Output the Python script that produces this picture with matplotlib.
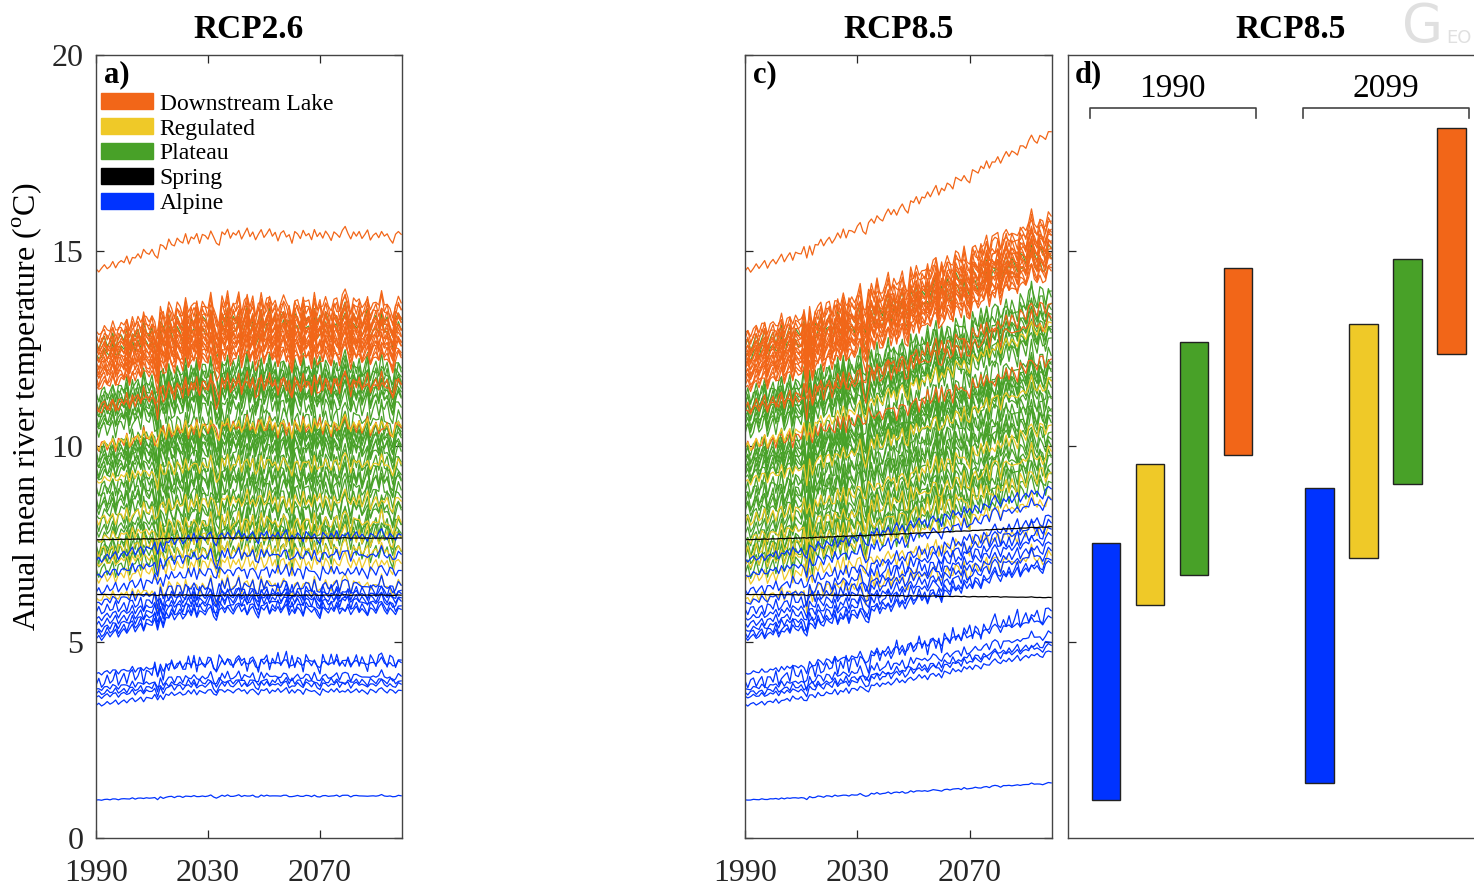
import matplotlib.pyplot as plt
from matplotlib.patches import Patch
import numpy as np

plt.rcParams['font.family'] = ['Liberation Serif', 'DejaVu Serif']
plt.rcParams['mathtext.fontset'] = 'custom'
plt.rcParams['mathtext.rm'] = 'Liberation Serif'

years = np.arange(1990, 2100)

# warming shape over the century (0 = 1990 level, 1 = 2099 level)
rise26 = [0.00, 0.02, 0.04, 0.07, 0.09, 0.11, 0.14, 0.16, 0.19, 0.21,
          0.24, 0.27, 0.29, 0.32, 0.35, 0.38, 0.41, 0.44, 0.47, 0.50,
          0.53, 0.56, 0.59, 0.62, 0.65, 0.68, 0.71, 0.73, 0.76, 0.78,
          0.80, 0.82, 0.84, 0.86, 0.88, 0.89, 0.91, 0.92, 0.93, 0.94,
          0.95, 0.96, 0.97, 0.97, 0.98, 0.98, 0.99, 0.99, 1.00, 1.00,
          1.00, 1.00, 1.00, 1.00, 1.00, 1.00, 1.00, 1.00, 1.00, 1.00,
          1.00, 1.00, 1.00, 0.99, 0.99, 0.99, 0.99, 0.99, 0.99, 0.99,
          0.99, 0.99, 0.99, 0.99, 0.98, 0.98, 0.98, 0.98, 0.98, 0.98,
          0.98, 0.98, 0.98, 0.98, 0.98, 0.98, 0.98, 0.98, 0.98, 0.98,
          0.98, 0.98, 0.98, 0.97, 0.97, 0.97, 0.97, 0.97, 0.97, 0.97,
          0.97, 0.97, 0.97, 0.97, 0.97, 0.97, 0.97, 0.98, 0.99, 1.00]
rise85 = [0.000, 0.004, 0.009, 0.014, 0.019, 0.025, 0.031, 0.037, 0.044, 0.050,
          0.057, 0.064, 0.071, 0.078, 0.085, 0.093, 0.100, 0.108, 0.115, 0.123,
          0.131, 0.139, 0.147, 0.155, 0.163, 0.171, 0.179, 0.187, 0.196, 0.204,
          0.213, 0.221, 0.230, 0.239, 0.247, 0.256, 0.265, 0.274, 0.282, 0.291,
          0.300, 0.309, 0.318, 0.327, 0.337, 0.346, 0.355, 0.364, 0.374, 0.383,
          0.393, 0.402, 0.412, 0.421, 0.431, 0.440, 0.450, 0.459, 0.469, 0.479,
          0.489, 0.498, 0.508, 0.518, 0.528, 0.538, 0.548, 0.558, 0.568, 0.578,
          0.588, 0.598, 0.608, 0.618, 0.628, 0.639, 0.649, 0.659, 0.669, 0.680,
          0.690, 0.700, 0.711, 0.721, 0.732, 0.742, 0.753, 0.763, 0.774, 0.784,
          0.795, 0.805, 0.816, 0.827, 0.837, 0.848, 0.859, 0.870, 0.880, 0.891,
          0.902, 0.913, 0.924, 0.934, 0.945, 0.956, 0.967, 0.978, 0.989, 1.000]

# year-to-year anomalies
wig1 = [0.2, -0.3, 0.1, 0.4, -0.2, 0.0, 0.5, -0.4, 0.1, 0.3,
        -0.1, 0.6, -0.5, 0.2, 0.0, 0.4, -0.3, 0.7, 0.1, -0.2,
        0.3, -0.6, -1.1, 0.5, 0.2, -0.4, 0.8, 0.0, -0.3, 0.6,
        0.1, -0.2, 0.9, -0.5, 0.3, 0.0, 0.6, -0.7, 0.4, 0.2,
        -0.3, 0.7, -0.1, -0.9, -1.2, 0.5, 0.1, 0.8, -0.4, 0.3,
        0.0, 0.6, -0.5, 0.2, 0.9, -0.2, 0.4, -0.6, 0.1, 0.7,
        -0.3, 0.2, 0.8, -0.1, 0.4, -0.7, 0.3, 0.6, -0.2, 0.1,
        -1.0, 0.5, 0.2, -0.4, 0.7, 0.0, 0.3, -0.5, 0.8, -0.1,
        0.4, -0.3, 0.6, 0.1, -0.6, 0.5, 0.2, -0.2, 0.7, 1.2,
        0.3, -0.4, 0.5, 0.0, 0.6, -0.3, 0.2, 0.8, -0.5, 0.1,
        0.4, -0.2, 0.6, 0.0, 0.3, -0.4, -0.9, 0.2, 0.5, 0.1]
wig2 = [-0.1, 0.3, -0.4, 0.0, 0.5, -0.2, 0.2, 0.6, -0.5, 0.1,
        0.4, -0.3, 0.2, 0.7, -0.4, 0.1, 0.5, -0.6, 0.3, 0.0,
        -0.2, 0.6, -1.0, 0.4, -0.9, 0.3, 0.1, 0.7, -0.3, 0.2,
        0.5, -0.4, 0.0, 0.6, -0.2, 0.8, -0.5, 0.3, 0.1, -0.3,
        0.4, 0.7, -0.6, -1.1, 0.2, 0.5, -0.2, 0.6, 0.0, -0.4,
        0.3, 0.8, -0.1, 0.4, -0.5, 0.2, 0.6, -0.3, -0.9, 0.5,
        0.1, 0.7, -0.4, 0.3, 0.0, 0.6, -0.2, 0.4, 0.9, -0.5,
        0.2, -0.3, 0.5, 0.1, -0.6, 0.7, 0.3, -0.1, 0.4, -0.4,
        -0.9, 0.6, 0.2, -0.2, 0.5, 0.0, 0.8, -0.3, 0.3, 0.1,
        0.6, -0.4, 0.2, 0.7, -0.1, 0.4, 0.0, -0.5, 0.5, 0.3,
        -0.2, 0.6, 1.1, 0.2, -0.3, 0.5, 0.1, -0.4, 0.4, 0.2]
mix = [0.0, 0.5, -0.4, 0.8, -0.7, 0.3, -0.2, 0.6, -0.5]

# Downstream Lake
lake_start = [14.5, 12.9, 12.8, 12.7, 12.6, 12.5, 12.45, 12.4, 12.3, 12.25, 12.2, 12.1,
              12.05, 12.0, 11.9, 11.85, 11.8, 11.7, 11.6, 11.5, 11.0, 10.9, 10.0]
lake_end26 = [15.4, 13.6, 13.5, 13.4, 13.3, 13.2, 13.15, 13.1, 13.0, 12.95, 12.9, 12.8,
              12.75, 12.7, 12.6, 12.55, 12.5, 12.4, 12.3, 12.2, 11.6, 11.5, 10.5]
lake_end85 = [18.0, 15.8, 15.7, 15.6, 15.5, 15.4, 15.35, 15.3, 15.2, 15.15, 15.1, 15.0,
              14.95, 14.9, 14.8, 14.75, 14.7, 14.6, 14.5, 14.4, 13.6, 13.2, 12.2]
lake_amp = [0.2, 0.35, 0.35, 0.35, 0.35, 0.35, 0.35, 0.35, 0.35, 0.35, 0.35, 0.35,
            0.35, 0.35, 0.35, 0.35, 0.35, 0.35, 0.35, 0.35, 0.3, 0.3, 0.25]

# Plateau
plat_start = [12.6, 12.3, 11.3, 11.2, 11.1, 11.0, 10.9, 10.8, 10.7, 10.6, 10.5, 10.4,
              9.9, 9.8, 9.7, 9.6, 9.5, 9.4, 9.3, 9.2, 8.9, 8.8, 8.6, 8.5, 8.4, 8.2, 8.0,
              7.8, 7.6, 7.4, 7.3, 7.2, 7.0, 6.8]
plat_end26 = [13.2, 12.9, 12.0, 11.8, 11.8, 11.6, 11.6, 11.4, 11.4, 11.2, 11.2, 11.0,
              10.6, 10.4, 10.4, 10.2, 10.2, 10.0, 10.0, 9.8, 9.6, 9.4, 9.3, 9.1, 9.1, 8.8, 8.7,
              8.4, 8.3, 8.0, 7.9, 7.8, 7.6, 7.3]
plat_end85 = [15.0, 14.7, 13.9, 13.7, 13.6, 13.4, 13.3, 13.1, 13.0, 12.9, 12.8, 12.7,
              12.2, 12.1, 12.0, 11.9, 11.8, 11.7, 11.6, 11.4, 11.2, 11.1, 10.9, 10.8, 10.7, 10.5, 10.3,
              10.1, 9.9, 9.7, 9.6, 9.5, 9.2, 9.0]

# Regulated
reg_start = [10.0, 9.1, 8.1, 7.6, 7.3, 7.0, 6.6, 6.1]
reg_end26 = [10.5, 9.5, 8.6, 8.0, 7.7, 7.3, 7.0, 6.4]
reg_end85 = [13.1, 11.6, 10.5, 9.8, 9.3, 8.6, 7.9, 7.15]

# Spring
spring_start = [7.62, 6.22]
spring_end26 = [7.66, 6.20]
spring_end85 = [7.95, 6.14]

# Alpine
alp_start = [7.1, 6.7, 6.3, 6.0, 5.8, 5.6, 5.45, 5.3, 5.2, 5.1,
             4.2, 3.95, 3.8, 3.7, 3.6, 3.4, 0.97]
alp_end26 = [7.7, 7.2, 6.8, 6.4, 6.3, 6.2, 6.1, 6.0, 5.9, 5.8,
             4.45, 4.5, 4.1, 4.0, 3.9, 3.75, 1.07]
alp_end85 = [8.9, 8.6, 8.2, 8.0, 7.9, 7.7, 7.5, 7.3, 7.1, 7.0,
             5.6, 5.8, 5.2, 5.0, 4.9, 4.75, 1.4]
alp_amp = [0.2, 0.2, 0.2, 0.2, 0.2, 0.2, 0.2, 0.2, 0.2, 0.2,
           0.13, 0.28, 0.13, 0.1, 0.13, 0.1, 0.03]

# panel d: ranges per river type
bar_types = ['Alpine', 'Regulated', 'Plateau', 'Downstream Lake']
low_1990 = [0.97, 5.95, 6.72, 9.78]
high_1990 = [7.54, 9.55, 12.67, 14.56]
low_2099 = [1.40, 7.15, 9.04, 12.36]
high_2099 = [8.94, 13.13, 14.79, 18.14]

colors = {'Downstream Lake': '#F26618', 'Regulated': '#EFC928', 'Plateau': '#48A128',
          'Spring': '#000000', 'Alpine': '#0033FF'}
legend_order = ['Downstream Lake', 'Regulated', 'Plateau', 'Spring', 'Alpine']


def draw_bundle(ax, start, end, amp, rise, main, other, color):
    rise = np.array(rise)
    main = np.array(main)
    other = np.array(other)
    for i in range(len(start)):
        a = amp[i] if isinstance(amp, list) else amp
        y = start[i] + (end[i] - start[i]) * rise + a * (main + mix[i % len(mix)] * other)
        ax.plot(years, y, color=color, lw=0.9)


def style_axes(ax):
    ax.set_xlim(1990, 2099.3)
    ax.set_ylim(0, 20)
    ax.set_xticks([1990, 2030, 2070])
    ax.set_yticks([0, 5, 10, 15, 20])
    ax.tick_params(direction='in', length=6, width=0.9, top=True, right=True,
                   labelsize=23, pad=9, colors='#262626')
    ax.tick_params(axis='x', pad=15)
    for s in ax.spines.values():
        s.set_color('#444444')
        s.set_linewidth(1.0)


fig = plt.figure(figsize=(14.74, 8.85), dpi=100)
axa = fig.add_axes([96 / 1474, 47 / 885, 306 / 1474, 783 / 885])
axc = fig.add_axes([745 / 1474, 47 / 885, 307 / 1474, 783 / 885])
axd = fig.add_axes([1068 / 1474, 47 / 885, 446 / 1474, 783 / 885])

# a) RCP2.6
draw_bundle(axa, plat_start, plat_end26, 0.42, rise26, wig1, wig2, colors['Plateau'])
draw_bundle(axa, lake_start, lake_end26, lake_amp, rise26, wig1, wig2, colors['Downstream Lake'])
draw_bundle(axa, reg_start, reg_end26, 0.28, rise26, wig1, wig2, colors['Regulated'])
draw_bundle(axa, alp_start, alp_end26, alp_amp, rise26, wig2, wig1, colors['Alpine'])
draw_bundle(axa, spring_start, spring_end26, 0.01, rise26, wig1, wig2, colors['Spring'])
style_axes(axa)
axa.set_title('RCP2.6', fontsize=24, fontweight='bold', pad=12)
axa.text(0.026, 0.993, 'a)', transform=axa.transAxes, fontsize=22, fontweight='bold', va='top')
handles = [Patch(facecolor=colors[k], edgecolor=colors[k]) for k in legend_order]
axa.legend(handles, legend_order, loc='upper left', bbox_to_anchor=(0.0, 0.957),
           frameon=False, fontsize=17, handlelength=2.2, handleheight=0.65,
           labelspacing=0.16, handletextpad=0.3, borderpad=0.1, borderaxespad=0.1)

# c) RCP8.5
draw_bundle(axc, plat_start, plat_end85, 0.45, rise85, wig2, wig1, colors['Plateau'])
draw_bundle(axc, lake_start, lake_end85, lake_amp, rise85, wig2, wig1, colors['Downstream Lake'])
draw_bundle(axc, reg_start, reg_end85, 0.3, rise85, wig2, wig1, colors['Regulated'])
draw_bundle(axc, alp_start, alp_end85, alp_amp, rise85, wig1, wig2, colors['Alpine'])
draw_bundle(axc, spring_start, spring_end85, 0.01, rise85, wig2, wig1, colors['Spring'])
style_axes(axc)
axc.set_yticklabels([])
axc.set_title('RCP8.5', fontsize=24, fontweight='bold', pad=12)
axc.text(0.026, 0.993, 'c)', transform=axc.transAxes, fontsize=22, fontweight='bold', va='top')

# d) range bars
pos_1990 = np.arange(4) + 1.0
pos_2099 = np.arange(4) + 5.85
bar_cols = [colors[k] for k in bar_types]
axd.bar(pos_1990, np.array(high_1990) - np.array(low_1990), bottom=low_1990, width=0.64,
        color=bar_cols, edgecolor='#222222', linewidth=1.0)
axd.bar(pos_2099, np.array(high_2099) - np.array(low_2099), bottom=low_2099, width=0.64,
        color=bar_cols, edgecolor='#222222', linewidth=1.0)
for pos, lab in [(pos_1990, '1990'), (pos_2099, '2099')]:
    x0, x1 = pos[0] - 0.37, pos[-1] + 0.4
    axd.plot([x0, x0, x1, x1], [18.4, 18.65, 18.65, 18.4], color='#444444', lw=1.2)
    axd.text((x0 + x1) / 2, 19.15, lab, fontsize=24, ha='center', va='center')
axd.set_xlim(0.136, 10.27)
axd.set_ylim(0, 20)
axd.set_xticks([])
axd.set_yticks([5, 10, 15])
axd.set_yticklabels([])
axd.tick_params(direction='in', length=6, width=0.9, colors='#262626')
for s in axd.spines.values():
    s.set_color('#444444')
    s.set_linewidth(1.0)
axd.set_title('RCP8.5', fontsize=24, fontweight='bold', pad=12)
axd.text(0.016, 0.993, 'd)', transform=axd.transAxes, fontsize=22, fontweight='bold', va='top')

fig.text(28 / 1474, 1 - 407 / 885, 'Anual mean river temperature ($^{\\rm o}$C)',
         rotation=90, fontsize=23, ha='center', va='center')

# journal watermark in the corner
fig.text(1402 / 1474, 1 - 27 / 885, 'G', fontsize=38, color='#e0e0e0', ha='left', va='center',
         family='DejaVu Sans')
fig.text(1446 / 1474, 1 - 38 / 885, 'EO', fontsize=13, color='#e0e0e0', ha='left', va='center',
         family='DejaVu Sans')

fig.savefig('out.png', dpi=100)
